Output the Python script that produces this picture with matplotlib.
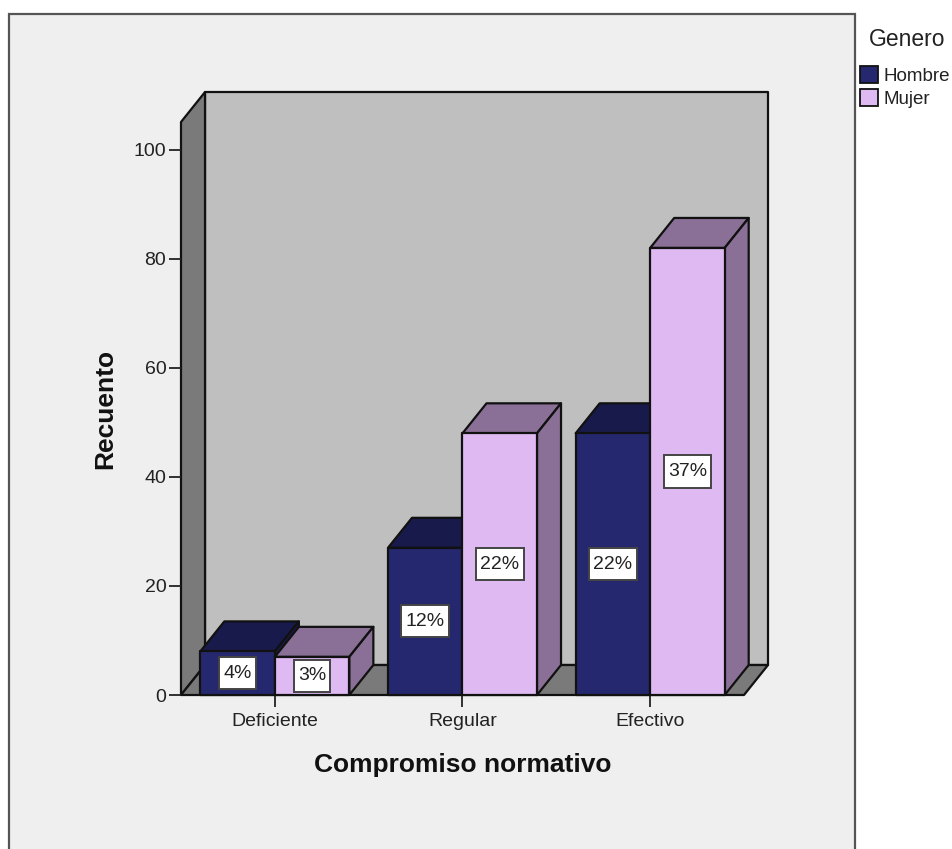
import matplotlib
matplotlib.use("Agg")
import matplotlib.pyplot as plt
from matplotlib.patches import Polygon, Rectangle, Patch
from matplotlib.path import Path

plt.rcParams["font.family"] = ["Liberation Sans", "DejaVu Sans"]

categories = ["Deficiente", "Regular", "Efectivo"]
hombre = [8, 27, 48]
mujer = [7, 48, 82]
hombre_pct = ["4%", "12%", "22%"]
mujer_pct = ["3%", "22%", "37%"]
yticks = [0, 20, 40, 60, 80, 100]

W, H = 953, 849
bar_w = 0.397
# fake 3d depth, in data units
dx = 0.128
dy = 5.5
ymax = 105.1
edge = "#111111"
lw = 1.6


def poly(ax, pts, color, z=2):
    ax.add_patch(Polygon(pts, closed=True, facecolor=color, edgecolor=edge,
                         linewidth=lw, joinstyle="round", clip_on=False, zorder=z))


def bar3d(ax, x0, val, front, shade, z):
    x1 = x0 + bar_w
    poly(ax, [(x0, val), (x0 + dx, val + dy), (x1 + dx, val + dy), (x1, val)], shade, z)
    poly(ax, [(x1, 0), (x1 + dx, dy), (x1 + dx, val + dy), (x1, val)], shade, z)
    poly(ax, [(x0, 0), (x1, 0), (x1, val), (x0, val)], front, z)


# label box with more padding top and bottom than at the sides
def tall_box(x0, y0, width, height, size):
    px, py = 0.22 * size, 0.39 * size
    x1, y1 = x0 + width + px, y0 + height + py
    x0, y0 = x0 - px, y0 - py
    return Path([(x0, y0), (x1, y0), (x1, y1), (x0, y1), (x0, y0)], closed=True)


def pct_label(ax, x, val, s):
    ax.text(x, val / 2, s, ha="center", va="center", fontsize=14, color="#222222", zorder=20,
            bbox=dict(boxstyle=tall_box, fc="white", ec="#444444", lw=1.4))


fig = plt.figure(figsize=(W / 100, H / 100), dpi=100, facecolor="white")

# grey panel, open at the bottom of the image
fig.add_artist(Rectangle((9 / W, -0.02), 846 / W, (H - 14) / H + 0.02, transform=fig.transFigure,
                         facecolor="#efefef", edgecolor="#555555", linewidth=1.6, zorder=-1))

ax = fig.add_axes([181 / W, (H - 695) / H, 563 / W, 573 / H])
ax.patch.set_visible(False)
ax.set_xlim(-0.5, 2.5)
ax.set_ylim(0, ymax)
for s in ax.spines.values():
    s.set_visible(False)

# walls and floor
xl, xr = -0.5, 2.5
poly(ax, [(xl + dx, dy), (xr + dx, dy), (xr + dx, ymax + dy), (xl + dx, ymax + dy)], "#bfbfbf", 1)
poly(ax, [(xl, 0), (xl + dx, dy), (xl + dx, ymax + dy), (xl, ymax)], "#7a7a7a", 1)
poly(ax, [(xl, 0), (xl + dx, dy), (xr + dx, dy), (xr, 0)], "#7a7a7a", 1)

for i in range(len(categories)):
    bar3d(ax, i - bar_w, hombre[i], "#26286f", "#191a4c", 3 + 2 * i)
    bar3d(ax, i, mujer[i], "#deb9f2", "#8a7096", 4 + 2 * i)
    pct_label(ax, i - bar_w / 2, hombre[i], hombre_pct[i])
    pct_label(ax, i + bar_w / 2, mujer[i], mujer_pct[i])

ax.set_xticks(range(len(categories)))
ax.set_xticklabels(categories)
ax.set_yticks(yticks)
ax.tick_params(axis="both", length=8.6, width=1.3, color="#222222", labelcolor="#222222",
               labelsize=14, pad=2)
ax.tick_params(axis="x", pad=4)
ax.set_xlabel("Compromiso normativo", fontsize=19, fontweight="bold", labelpad=17, color="#111111")
ax.set_ylabel("Recuento", fontsize=19, fontweight="bold", labelpad=12, color="#111111")

fig.text(907 / W, (H - 39) / H, "Genero", fontsize=16.5, color="#222222", ha="center", va="center")
handles = [Patch(facecolor="#26286f", edgecolor=edge, linewidth=1.3, label="Hombre"),
           Patch(facecolor="#deb9f2", edgecolor=edge, linewidth=1.3, label="Mujer")]
leg = fig.legend(handles=handles, frameon=False, fontsize=13.5,
                 loc="upper left", bbox_to_anchor=(860 / W, (H - 66) / H), borderaxespad=0,
                 handlelength=0.96, handleheight=1.0, handletextpad=0.3, labelspacing=0.22,
                 borderpad=0)
for t in leg.get_texts():
    t.set_color("#222222")

fig.savefig("out.png", dpi=100)
